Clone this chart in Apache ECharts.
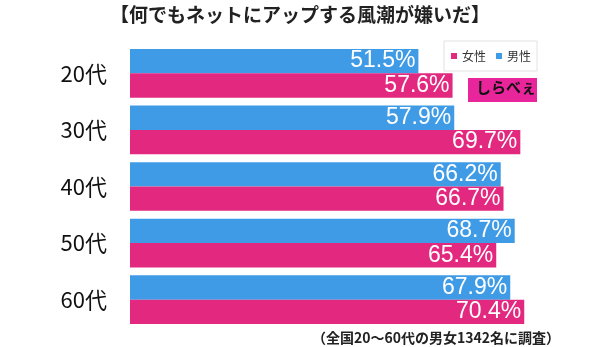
<!DOCTYPE html>
<html><head><meta charset="utf-8">
<script src="https://cdn.jsdelivr.net/npm/echarts@6/dist/echarts.min.js"></script>
<style>html,body{margin:0;padding:0;background:#fff}#c{width:600px;height:347px}</style>
</head><body><div id="c"></div>
<script>
const categories = ['20代','30代','40代','50代','60代'];
const male = [51.5, 57.9, 66.2, 68.7, 67.9];
const female = [57.6, 69.7, 66.7, 65.4, 70.4];
const titleText = '【何でもネットにアップする風潮が嫌いだ】';
const noteText = '（全国20〜60代の男女1342名に調査）';

const FONT = '"Noto Sans CJK JP", "Noto Sans", sans-serif';
const BLUE = '#3f9be6', PINK = '#e2287f';
const chart = echarts.init(document.getElementById('c'));
const lbl = {show:true, position:'insideRight', color:'#fff', fontSize:23, fontFamily:'"Liberation Sans", Arial, sans-serif', distance:3, formatter: p => p.value.toFixed(1) + '%'};
chart.setOption({
  animation:false,
  title:{text:titleText, left:'center', top:0, textStyle:{fontSize:19, fontWeight:'bold', color:'#222', fontFamily:FONT}},
  legend:{data:['女性','男性'], right:63, top:41, icon:'rect', itemWidth:6, itemHeight:6, itemGap:10,
    borderColor:'#e2e2e2', borderWidth:1, padding:[9,6,9,7], textStyle:{fontSize:12, color:'#333', fontFamily:FONT}},
  grid:{left:130, right:22, top:45, bottom:19},
  xAxis:{type:'value', min:0, max:80, show:false},
  yAxis:{type:'category', data:categories, inverse:true, axisLine:{show:false}, axisTick:{show:false},
    axisLabel:{fontSize:22, color:'#111', margin:23, fontFamily:FONT}},
  series:[
    {name:'男性', type:'bar', data:male, itemStyle:{color:BLUE}, barGap:'0%', barCategoryGap:'14%', label:lbl},
    {name:'女性', type:'bar', data:female, itemStyle:{color:PINK}, label:lbl}
  ],
  graphic:[
    {type:'rect', shape:{x:468, y:78, width:69, height:24}, style:{fill:'#e8259b'}},
    {type:'text', left:476, top:80, style:{text:'しらべぇ', fill:'#111', font:'bold 15px "Noto Sans CJK JP"'}},
    {type:'text', right:40, bottom:2, style:{text:noteText, fill:'#222', font:'bold 14px "Noto Sans CJK JP"'}}
  ]
});
</script></body></html>
